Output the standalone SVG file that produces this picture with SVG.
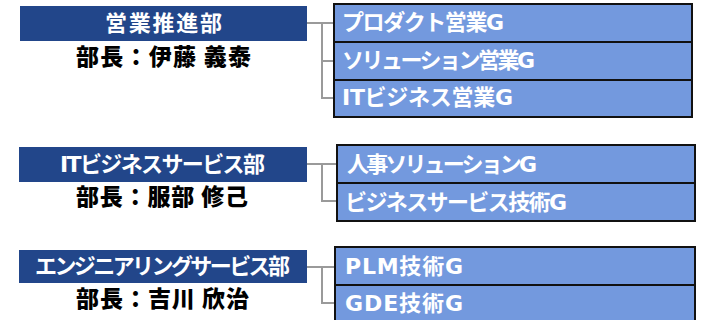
<svg xmlns="http://www.w3.org/2000/svg" width="701" height="320" viewBox="0 0 701 320">
<style>
.dept{fill:#22468A}
.grp{fill:#7399DE;stroke:#111;stroke-width:2}
.wt{fill:#fff;font-family:"DejaVu Sans","Noto Sans CJK JP",sans-serif;font-weight:bold;font-size:22px}
.mt{fill:#000;font-family:"Noto Sans CJK JP","Noto Sans",sans-serif;font-weight:900;font-size:23px}
.cn{fill:none;stroke:#9A9A9A;stroke-width:2}
</style>
<rect width="701" height="320" fill="#fff"/>
<g id="connectors">
<path class="cn" d="M307,23 H334 M322,23 V98 H334 M322,61 H334"/>
<path class="cn" d="M307,164 H337 M322,164 V201 H337"/>
<path class="cn" d="M307,267 H335 M322,267 V303 H335"/>
</g>
<g id="dept1">
<rect class="dept" x="20" y="6" width="287" height="35"/>
<text class="wt" x="163.5" y="31" text-anchor="middle" textLength="117" lengthAdjust="spacing">営業推進部</text>
<text class="mt" x="163.5" y="65" text-anchor="middle" textLength="175" lengthAdjust="spacing">部長：伊藤 義泰</text>
</g>
<g id="grp-product">
<rect class="grp" x="334" y="4" width="358" height="38"/>
<text class="wt" x="342" y="30" textLength="162" lengthAdjust="spacing">プロダクト営業G</text>
</g>
<g id="grp-solution">
<rect class="grp" x="334" y="42" width="358" height="38"/>
<text class="wt" x="342" y="68" textLength="193" lengthAdjust="spacing">ソリューション営業G</text>
</g>
<g id="grp-itbiz">
<rect class="grp" x="334" y="80" width="358" height="37"/>
<text class="wt" x="342" y="105" textLength="171" lengthAdjust="spacing">ITビジネス営業G</text>
</g>
<g id="dept2">
<rect class="dept" x="19" y="147" width="288" height="35"/>
<text class="wt" x="162.5" y="172" text-anchor="middle" textLength="205" lengthAdjust="spacing">ITビジネスサービス部</text>
<text class="mt" x="162" y="205" text-anchor="middle" textLength="172" lengthAdjust="spacing">部長：服部 修己</text>
</g>
<g id="grp-hr">
<rect class="grp" x="337" y="145" width="358" height="38"/>
<text class="wt" x="347" y="172" textLength="190" lengthAdjust="spacing">人事ソリューションG</text>
</g>
<g id="grp-bizsvc">
<rect class="grp" x="337" y="183" width="358" height="38"/>
<text class="wt" x="345" y="210" textLength="222" lengthAdjust="spacing">ビジネスサービス技術G</text>
</g>
<g id="dept3">
<rect class="dept" x="19" y="250" width="288" height="33"/>
<text class="wt" x="162.5" y="274" text-anchor="middle" textLength="255" lengthAdjust="spacing">エンジニアリングサービス部</text>
<text class="mt" x="162.5" y="307" text-anchor="middle" textLength="173" lengthAdjust="spacing">部長：吉川 欣治</text>
</g>
<g id="grp-plm">
<rect class="grp" x="335" y="247" width="360" height="38"/>
<text class="wt" x="345" y="274" textLength="118" lengthAdjust="spacing">PLM技術G</text>
</g>
<g id="grp-gde">
<rect class="grp" x="335" y="285" width="360" height="38"/>
<text class="wt" x="345" y="311" textLength="118" lengthAdjust="spacing">GDE技術G</text>
</g>
</svg>
